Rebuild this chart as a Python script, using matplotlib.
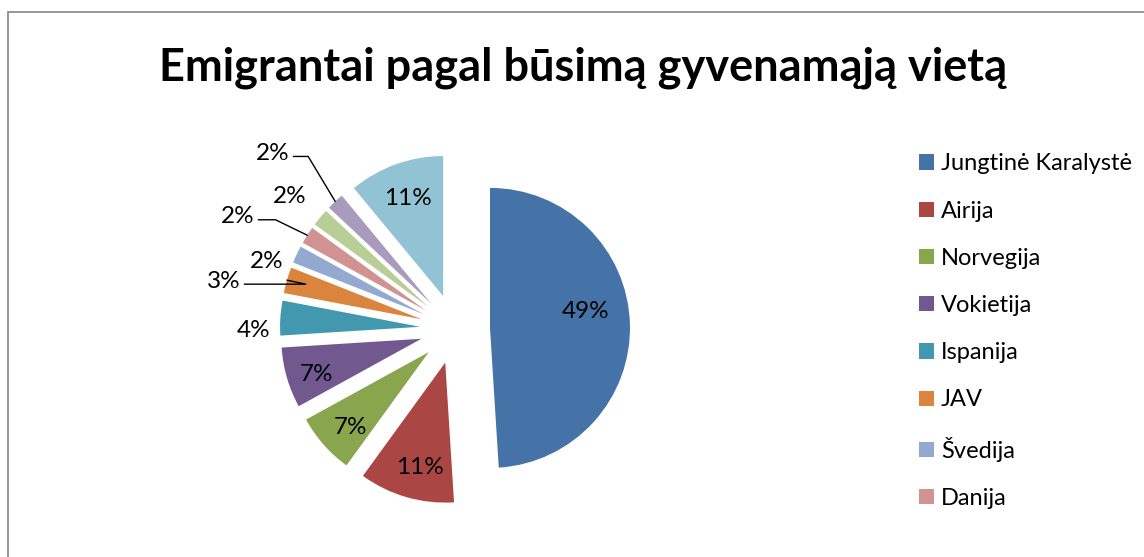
import matplotlib
matplotlib.use('Agg')
import matplotlib.pyplot as plt
import numpy as np
from matplotlib.patches import Rectangle

plt.rcParams['font.family'] = ['Lato', 'DejaVu Sans']

# data
salys = ['Jungtinė Karalystė', 'Airija', 'Norvegija', 'Vokietija', 'Ispanija',
         'JAV', 'Švedija', 'Danija', 'Nyderlandai', 'Rusija', 'Kitos šalys']
procentai = [49, 11, 7, 7, 4, 3, 2, 2, 2, 2, 11]
spalvos = ['#4572A7', '#AA4643', '#89A54E', '#71588F', '#4198AF', '#DB843D',
           '#93A9CF', '#D19392', '#B9CD96', '#A99BBD', '#92C3D4']
n_legendoje = 8   # legend in the original is cut off after 8 entries

# label placement (distance from pie centre, angle tweak in degrees)
lab_dist = [0.94, 1.02, 1.03, 1.04, 1.44, 1.69, 1.43, 1.75, 1.51, 1.81, 0.99]
lab_dang = [5.7, 2.1, 1.9, 2.2, 3.9, 4.5, 5.6, 5.1, 0.9, 2.9, -0.1]
leader = {5: 168, 7: 154, 9: 121}   # index -> angle of slanted leader part
explode = 0.25

W, H = 1144, 557
fig = plt.figure(figsize=(W / 100, H / 100), dpi=100)

# chart border (only top and left edges are visible)
fig.add_artist(Rectangle((8 / W, -0.1), 1.2, (H - 12) / H + 0.1,
                         transform=fig.transFigure, fill=False,
                         edgecolor='#868686', lw=1.2))

fig.text(583 / W, 1 - 68 / H, 'Emigrantai pagal būsimą gyvenamąją vietą',
         ha='center', va='center', fontsize=32.5, fontweight='bold')

# pie axes: centre at (455, 329) px, radius 140 px
L = 1.6
r_px = 140
side = 2 * L * r_px
cx, cy = 455, H - 329
ax = fig.add_axes([(cx - side / 2) / W, (cy - side / 2) / H, side / W, side / H])
wedges, _ = ax.pie(procentai, colors=spalvos, startangle=90, counterclock=False,
                   explode=[explode] * len(procentai), radius=1.0,
                   wedgeprops=dict(linewidth=0))
ax.set_xlim(-L, L)
ax.set_ylim(-L, L)
ax.set_aspect('equal')
ax.axis('off')

for i, w in enumerate(wedges):
    mid = (w.theta1 + w.theta2) / 2
    a = np.deg2rad(mid + lab_dang[i])
    tx, ty = lab_dist[i] * np.cos(a), lab_dist[i] * np.sin(a)
    txt = f'{procentai[i]}%'
    if i in leader:
        m = np.deg2rad(mid)
        px, py = (1 + explode) * np.cos(m), (1 + explode) * np.sin(m)
        ax.annotate(txt, xy=(px, py), xytext=(tx, ty), ha='center', va='center',
                    fontsize=17.5,
                    arrowprops=dict(arrowstyle='-', color='black', lw=1,
                                    shrinkA=1, shrinkB=0, relpos=(1, 0.35),
                                    connectionstyle=f'angle,angleA=0,angleB={leader[i]},rad=0'))
    else:
        ax.text(tx, ty, txt, ha='center', va='center', fontsize=17.5)

fig.legend(wedges[:n_legendoje], salys[:n_legendoje], loc='upper left',
           bbox_to_anchor=(910 / W, 1 - 144 / H), frameon=False, fontsize=17,
           handlelength=0.62, handleheight=0.62, handletextpad=0.3,
           labelspacing=1.11, borderaxespad=0)

fig.savefig('out.png', dpi=100)
